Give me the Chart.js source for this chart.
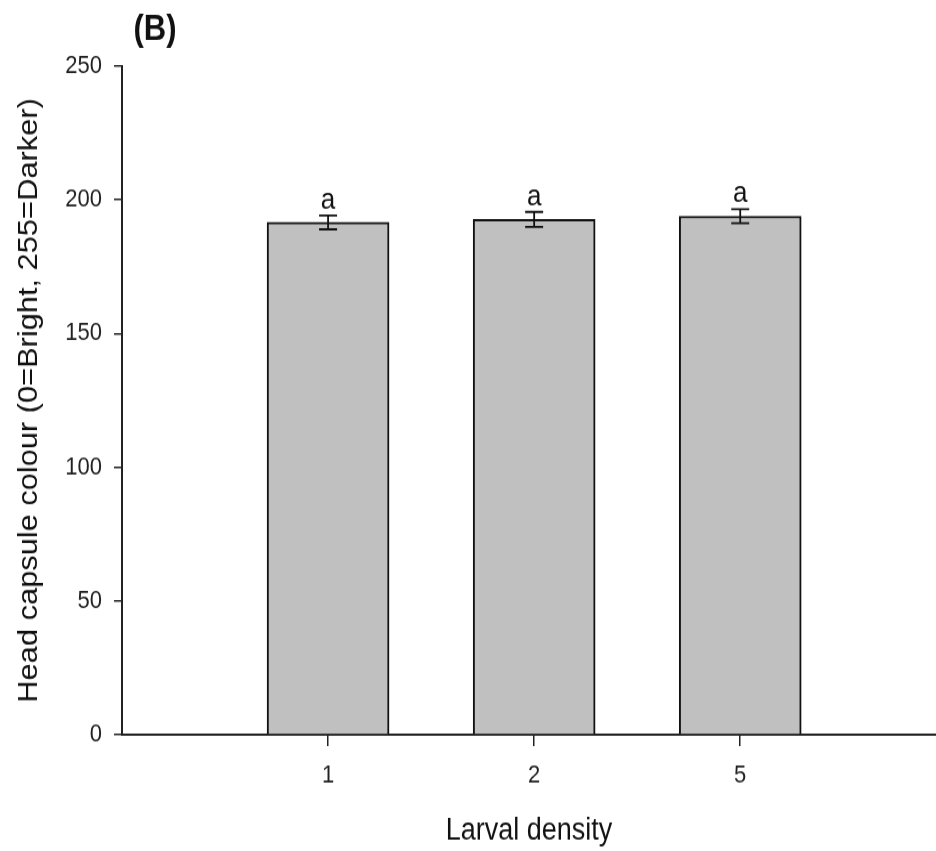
<!DOCTYPE html>
<html>
<head>
<meta charset="utf-8">
<script src="https://cdn.jsdelivr.net/npm/chart.js@4.4.1/dist/chart.umd.min.js"></script>
<style>
  html, body { margin: 0; padding: 0; background: #fff; }
  /* the source figure is a bit stretched vertically, so the canvas is drawn short and scaled up */
  #chart { display: block; width: 936px; height: 851px; }
</style>
</head>
<body>
<canvas id="chart" width="936" height="746" style="width:936px;height:851px"></canvas>
<script>
// data
const densities = ['1', '2', '5'];
const colourMeans = [191.6, 192.7, 193.9];
const colourErrors = [2.6, 2.8, 2.6];
const sigLetters = ['a', 'a', 'a'];
const yTicks = [0, 50, 100, 150, 200, 250];

const font = '"Liberation Sans", Arial, sans-serif';

// error bars + letters + panel tag
const errorBarPlugin = {
  id: 'errorBars',
  afterDatasetsDraw(chart) {
    const ctx = chart.ctx;
    const y = chart.scales.y;
    const meta = chart.getDatasetMeta(0);
    ctx.save();
    ctx.strokeStyle = '#111';
    ctx.lineWidth = 1.8;
    ctx.fillStyle = '#111';
    ctx.font = '26px ' + font;
    ctx.textAlign = 'center';
    ctx.textBaseline = 'alphabetic';
    meta.data.forEach((bar, i) => {
      let top = y.getPixelForValue(colourMeans[i] + colourErrors[i]);
      let bot = y.getPixelForValue(colourMeans[i] - colourErrors[i]);
      ctx.beginPath();
      ctx.moveTo(bar.x, top);
      ctx.lineTo(bar.x, bot);
      ctx.moveTo(bar.x - 9, top);
      ctx.lineTo(bar.x + 9, top);
      ctx.moveTo(bar.x - 9, bot);
      ctx.lineTo(bar.x + 9, bot);
      ctx.stroke();
      ctx.fillText(sigLetters[i], bar.x, top - 6);
    });
    ctx.font = 'bold 31px ' + font;
    ctx.textBaseline = 'middle';
    ctx.fillText('(B)', 155, 26);
    ctx.restore();
  }
};

let chartObj = document.getElementById('chart').getContext('2d');
let barChart = new Chart(chartObj, {
  type: 'bar',
  data: {
    datasets: [{
      data: colourMeans.map((v, i) => ({ x: i + 1, y: v })),
      backgroundColor: '#c0c0c0',
      borderColor: '#111',
      borderWidth: 2,
      barThickness: 122
    }]
  },
  options: {
    responsive: false,
    animation: false,
    layout: { padding: { top: 58, right: 0, bottom: 0, left: 0 } },
    plugins: {
      legend: { display: false },
      tooltip: { enabled: false }
    },
    scales: {
      x: {
        type: 'linear',
        min: 0,
        max: 3.95,
        offset: false,
        afterFit: scale => { scale.height = 102; },
        afterBuildTicks: scale => {
          scale.ticks = densities.map((d, i) => ({ value: i + 1 }));
        },
        ticks: {
          callback: v => densities[v - 1],
          font: { family: font, size: 22 },
          color: '#222',
          padding: 13,
          maxRotation: 0
        },
        grid: {
          offset: false,
          drawOnChartArea: false,
          tickLength: 10,
          color: '#222',
          lineWidth: 1.5
        },
        border: { color: '#222', width: 2 },
        title: {
          display: true,
          text: 'Larval density',
          font: { family: font, size: 27 },
          color: '#111',
          padding: { top: 0, bottom: 1 }
        }
      },
      y: {
        min: 0,
        max: 250,
        afterFit: scale => { scale.width = 122; },
        afterBuildTicks: scale => {
          scale.ticks = yTicks.map(v => ({ value: v }));
        },
        ticks: {
          font: { family: font, size: 22 },
          color: '#222',
          padding: 12
        },
        grid: {
          drawOnChartArea: false,
          tickLength: 8,
          color: '#222',
          lineWidth: 1.5
        },
        border: { color: '#222', width: 2 },
        title: {
          display: true,
          text: 'Head capsule colour (0=Bright, 255=Darker)',
          font: { family: font, size: 27 },
          color: '#111',
          padding: { top: 13, bottom: 0 }
        }
      }
    }
  },
  plugins: [errorBarPlugin]
});
</script>
</body>
</html>
